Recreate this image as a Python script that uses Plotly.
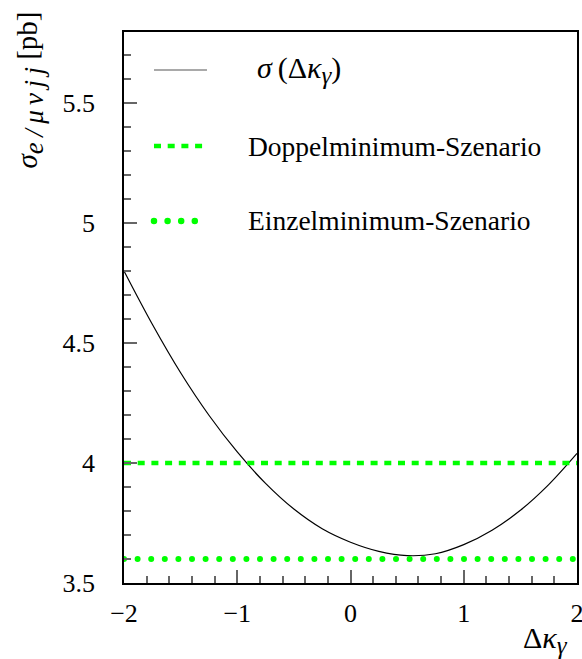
import plotly.graph_objects as go

# Cross section as a function of the anomalous coupling
delta_kappa = [-2.0, -1.75, -1.5, -1.25, -1.0, -0.75, -0.5, -0.25, 0.0,
               0.25, 0.5, 0.75, 1.0, 1.25, 1.5, 1.75, 2.0]
sigma_pb = [4.80, 4.578, 4.376, 4.199, 4.046, 3.915, 3.808, 3.726, 3.670,
            3.632, 3.614, 3.622, 3.660, 3.720, 3.803, 3.910, 4.040]

# Horizontal reference levels of the two scenarios
doppel_level = 4.0
einzel_level = 3.60

x_range = [-2.0, 2.0]
y_range = [3.5, 5.796]
x_ticks = [-2, -1, 0, 1, 2]
y_ticks = [3.5, 4.0, 4.5, 5.0, 5.5]
x_ticklabels = ["\u22122", "\u22121", "0", "1", "2"]
y_ticklabels = ["3.5", "4", "4.5", "5", "5.5"]

THIN = "\u2009"
legend_labels = [
    "<i>σ</i>" + THIN + "(Δ<i>κ</i><sub><span style='font-size:25px'><i>γ</i></span></sub>)",
    "Doppelminimum-Szenario",
    "Einzelminimum-Szenario",
]
legend_sizes = [30, 27.5, 27.5]

y_title = ("<i>σ</i><sub><span style='font-size:27px'><i>"
           + THIN.join(["e", "/", "μ", "ν", "j", "j"])
           + "</i></span></sub> [pb]")
x_title = "Δ<i>κ</i><sub><span style='font-size:25px'><i>γ</i></span></sub>"

GREEN = "#00ff00"
SERIF = "'Liberation Serif', 'Times New Roman', serif"
DASH = "7px,6.7px"
DOT = "5px,8.6px"

fig = go.Figure()

fig.add_trace(go.Scatter(
    x=delta_kappa, y=sigma_pb, mode="lines",
    line=dict(color="black", width=1.2, shape="spline"),
    name="σ(Δκγ)", showlegend=False,
))
fig.add_trace(go.Scatter(
    x=x_range, y=[doppel_level, doppel_level], mode="lines",
    line=dict(color=GREEN, width=4.5, dash=DASH),
    name=legend_labels[1], showlegend=False,
))
fig.add_trace(go.Scatter(
    x=x_range, y=[einzel_level, einzel_level], mode="lines",
    line=dict(color=GREEN, width=6, dash=DOT),
    name=legend_labels[2], showlegend=False,
))

# Legend drawn inside the frame: sample line + label per row
legend_rows = [0.931, 0.793, 0.657]
legend_styles = [
    dict(color="#555555", width=1.2),
    dict(color=GREEN, width=4.5, dash=DASH),
    dict(color=GREEN, width=6.5, dash=DOT),
]
legend_text_x = [0.289, 0.2693, 0.2693]
for row_y, style, label, tx, fs in zip(legend_rows, legend_styles, legend_labels,
                                       legend_text_x, legend_sizes):
    fig.add_shape(type="line", xref="paper", yref="paper",
                  x0=0.0662, x1=0.1832, y0=row_y, y1=row_y, line=style)
    fig.add_annotation(xref="paper", yref="paper", x=tx, y=row_y,
                       xanchor="left", yanchor="middle", showarrow=False,
                       text=label, font=dict(family=SERIF, size=fs, color="black"))

# Axis titles
fig.add_annotation(xref="paper", yref="paper", x=-0.2075, y=1.04,
                   xanchor="center", yanchor="top", textangle=-90, showarrow=False,
                   text=y_title, font=dict(family=SERIF, size=29, color="black"))
fig.add_annotation(xref="paper", yref="paper", x=0.9845, y=-0.1034,
                   xanchor="right", yanchor="middle", showarrow=False,
                   text=x_title, font=dict(family=SERIF, size=30, color="black"))

axis_common = dict(
    showgrid=False, zeroline=False, automargin=False,
    showline=True, linecolor="black", linewidth=1.5, mirror=True,
    ticks="inside", tickcolor="#666666", tickwidth=1.5, ticklen=13,
    tickfont=dict(family=SERIF, size=26, color="black"),
)

fig.update_xaxes(
    range=x_range, tickvals=x_ticks, ticktext=x_ticklabels,
    minor=dict(dtick=0.2, ticks="inside", ticklen=7, tickcolor="#666666", tickwidth=1.5),
    ticklabelstandoff=6, ticklabeloverflow="allow",
    **axis_common,
)
fig.update_yaxes(
    range=y_range, tickvals=y_ticks, ticktext=y_ticklabels,
    minor=dict(dtick=0.1, ticks="inside", ticklen=7, tickcolor="#666666", tickwidth=1.5),
    ticklabelstandoff=22,
    **axis_common,
)

fig.update_layout(
    width=582, height=659,
    margin=dict(l=124, r=5, t=32, b=76),
    paper_bgcolor="white", plot_bgcolor="white",
    showlegend=False,
)

# Round line caps turn the short dotted dashes into round dots
round_dots = """
var gd = document.getElementById('{plot_id}');
gd.querySelectorAll('path').forEach(function (p) {
  var d = p.style.strokeDasharray || '';
  if (d.indexOf('8.6') !== -1) {
    p.style.strokeLinecap = 'round';
    p.style.strokeDasharray = '0px, 13.6px';
  }
});
"""

fig.write_html("out.html", post_script=round_dots)
